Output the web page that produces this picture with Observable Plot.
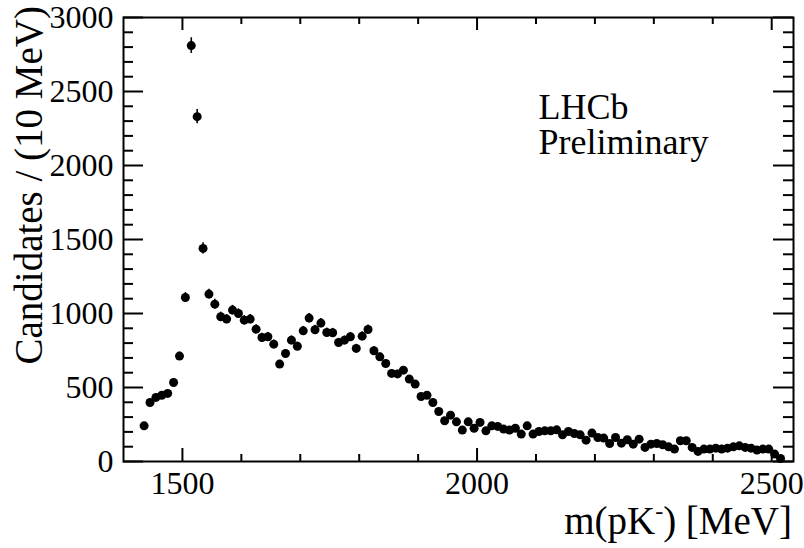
<!DOCTYPE html>
<html><head><meta charset="utf-8">
<script src="https://cdn.jsdelivr.net/npm/d3@7"></script>
<script src="https://cdn.jsdelivr.net/npm/@observablehq/plot@0.6"></script>
<style>html,body{margin:0;padding:0;background:#fff;}</style>
</head><body><div id="chart"></div>
<script>
// m(pK-) bin centres, 10 MeV bins
const binCenters = d3.range(1435, 2516, 10);
// Candidates per bin
const candidates = [
  241, 399, 433, 448, 460, 534, 712, 1108, 2810, 2330,
  1440, 1131, 1063, 978, 962, 1023, 1000, 955, 962, 894,
  838, 843, 793, 658, 730, 820, 779, 883, 969, 890,
  935, 872, 870, 804, 820, 843, 764, 847, 892, 748,
  707, 662, 595, 592, 617, 557, 523, 439, 448, 399,
  338, 275, 313, 268, 212, 268, 225, 264, 207, 241,
  237, 219, 212, 225, 185, 241, 185, 203, 207, 207,
  214, 180, 203, 189, 180, 144, 192, 162, 158, 122,
  162, 124, 147, 117, 151, 95, 117, 122, 113, 99,
  84, 140, 140, 95, 68, 84, 84, 90, 84, 90,
  99, 106, 95, 90, 77, 84, 84, 50, 20
];
const xMajorTicks = [1500, 2000, 2500];
const xMinorTicks = [1600, 1700, 1800, 1900, 2100, 2200, 2300, 2400];
const yMajorTicks = [0, 500, 1000, 1500, 2000, 2500, 3000];
const yMinorTicks = [100,200,300,400,600,700,800,900,1100,1200,1300,1400,1600,1700,1800,1900,2100,2200,2300,2400,2600,2700,2800,2900];
const xTitleParts = ["m(pK", "-", ") [MeV]"];
const yTitle = "Candidates / (10 MeV)";
const labelLines = ["LHCb", "Preliminary"];

const data = binCenters.map((m, i) => ({m, n: candidates[i], err: Math.sqrt(candidates[i])}));

const W = 804, H = 548, mL = 123, mR = 11, mT = 17, mB = 87;
const fw = W - mL - mR, fh = H - mT - mB;
const font = "'Liberation Serif', 'Times New Roman', serif";
const fmt = d3.format("d");

const plot = Plot.plot({
  width: W, height: H,
  marginLeft: mL, marginRight: mR, marginTop: mT, marginBottom: mB,
  style: {fontFamily: font, fontSize: "32px", color: "black", background: "white"},
  x: {domain: [1400, 2537], label: null},
  y: {domain: [0, 3000], label: null},
  marks: [
    Plot.ruleX(data, {x: "m", y1: d => d.n - d.err, y2: d => d.n + d.err, stroke: "black", strokeWidth: 1.6}),
    Plot.dot(data, {x: "m", y: "n", r: 4.5, fill: "black"}),
    Plot.tickX(xMajorTicks, {x: d => d, insetTop: fh - 13, stroke: "black", strokeWidth: 2}),
    Plot.tickX(xMinorTicks, {x: d => d, insetTop: fh - 7, stroke: "black", strokeWidth: 2}),
    Plot.tickX(xMajorTicks, {x: d => d, insetBottom: fh - 13, stroke: "black", strokeWidth: 2}),
    Plot.tickX(xMinorTicks, {x: d => d, insetBottom: fh - 7, stroke: "black", strokeWidth: 2}),
    Plot.tickY(yMajorTicks, {y: d => d, insetRight: fw - 20, stroke: "black", strokeWidth: 2}),
    Plot.tickY(yMinorTicks, {y: d => d, insetRight: fw - 10, stroke: "black", strokeWidth: 2}),
    Plot.tickY(yMajorTicks, {y: d => d, insetLeft: fw - 20, stroke: "black", strokeWidth: 2}),
    Plot.tickY(yMinorTicks, {y: d => d, insetLeft: fw - 10, stroke: "black", strokeWidth: 2}),
    Plot.frame({stroke: "black", strokeWidth: 2}),
    Plot.axisX({ticks: xMajorTicks, tickSize: 0, tickPadding: 10, tickFormat: fmt, fontSize: 32, label: null}),
    Plot.axisY({ticks: yMajorTicks, tickSize: 0, tickPadding: 10, tickFormat: fmt, fontSize: 32, label: null}),
    Plot.text([labelLines.join("\n")], {text: d => d, frameAnchor: "top-left", dx: 415, dy: 77, textAnchor: "start", lineAnchor: "top", lineHeight: 0.97, fontSize: 36})
  ]
});

const svg = d3.select(plot);
const xt = svg.append("text")
  .attr("x", 792).attr("y", 534)
  .attr("text-anchor", "end")
  .attr("font-family", font).attr("font-size", 39).attr("fill", "black");
xt.append("tspan").text(xTitleParts[0]);
xt.append("tspan").attr("font-size", 24).attr("dy", -15).text(xTitleParts[1]);
xt.append("tspan").attr("dy", 15).text(xTitleParts[2]);

svg.append("text")
  .attr("transform", "translate(42,6) rotate(-90)")
  .attr("text-anchor", "end")
  .attr("font-family", font).attr("font-size", 39).attr("fill", "black")
  .text(yTitle);

document.getElementById("chart").appendChild(plot);
</script>
</body></html>
